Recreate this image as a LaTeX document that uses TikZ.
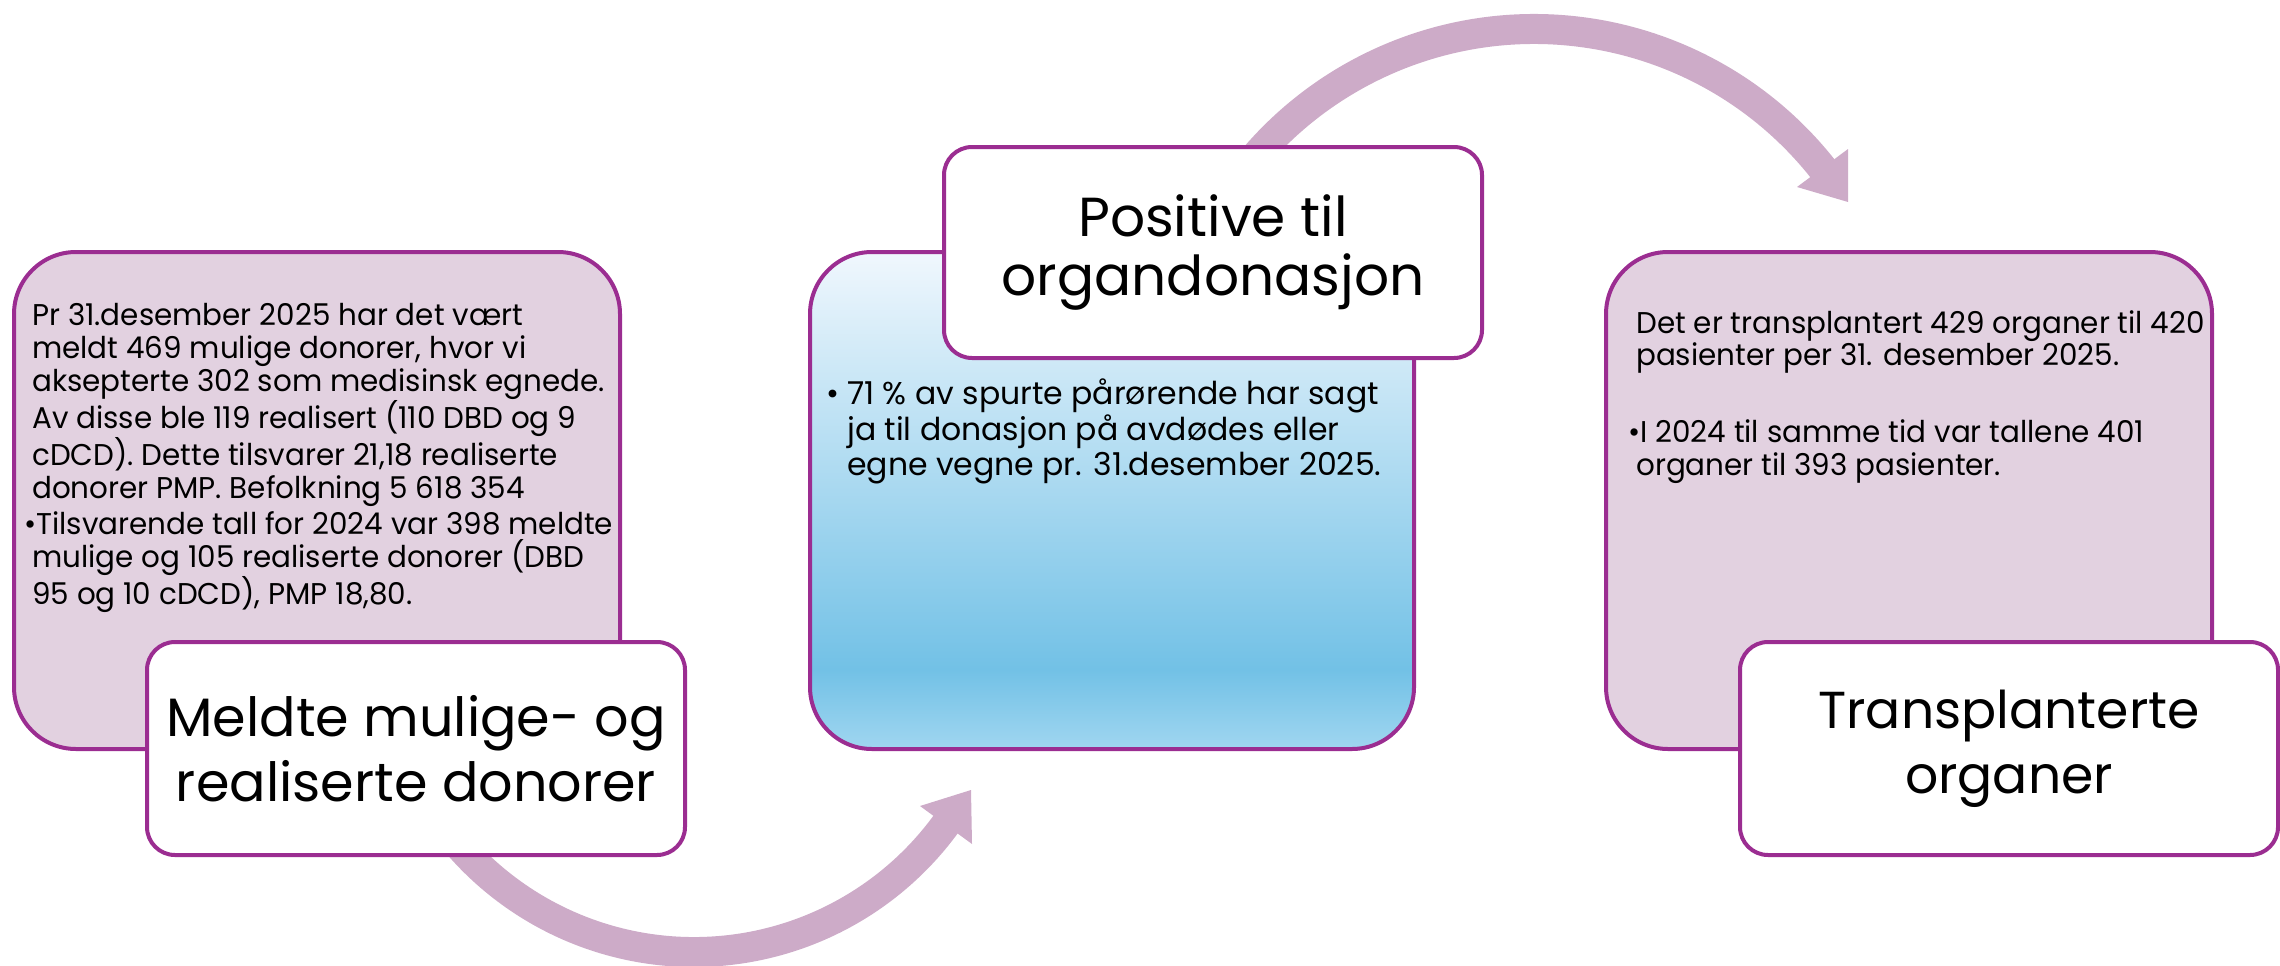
\documentclass[tikz,border=0pt]{standalone}
\usepackage{fontspec}
\setmainfont{Poppins}
\newfontfamily\condfont[FakeStretch=0.98]{Poppins}
\usetikzlibrary{calc}
\definecolor{boxborder}{RGB}{155,45,145}
\definecolor{boxfill}{RGB}{226,209,224}
\definecolor{arrowcol}{RGB}{205,171,200}
\definecolor{mtop}{RGB}{240,247,253}
\definecolor{mdark}{RGB}{114,193,230}
\definecolor{mbot}{RGB}{160,214,240}
\pgfdeclareverticalshading{midshade}{100bp}{color(0bp)=(mbot); color(25bp)=(mbot); color(33bp)=(mdark); color(75bp)=(mtop); color(100bp)=(mtop)}
\begin{document}
\begin{tikzpicture}[x=1pt,y=-1pt,
  band/.style={draw=arrowcol, line width=30pt},
  headtip/.style={fill=arrowcol},
  bigbox/.style={draw=boxborder, line width=4pt, rounded corners=62pt, fill=boxfill, anchor=north west, minimum width=606pt, minimum height=497pt, inner sep=0pt},
  midbox/.style={draw=boxborder, line width=4pt, rounded corners=62pt, shading=midshade, anchor=north west, minimum width=604pt, minimum height=497pt, inner sep=0pt},
  titlebox/.style={draw=boxborder, line width=4pt, rounded corners=28pt, fill=white, anchor=north west, minimum width=538pt, minimum height=213pt, align=center, inner sep=0pt},
  bodytext/.style={anchor=north west, align=left, inner sep=0pt},
  condtext/.style={font=\condfont\fontsize{30}{32.8}\selectfont}]
\useasboundingbox (0,0) rectangle (2280,966);
% arrows
\coordinate (a1s) at (1232.6,185.9);
\draw[band] (a1s) arc[start angle=215, end angle=322, radius=368];
\fill[headtip] (1797,187) -- (1848,202) -- (1848,149) -- cycle;
\coordinate (a2s) at (438.4,819);
\draw[band] (a2s) arc[start angle=145, end angle=35.5, radius=312];
\fill[headtip] (920,806) -- (971,790) -- (972,844) -- cycle;
% big boxes
\node[bigbox] (lbox) at (12,250) {};
\node[midbox] (mbox) at (808,250) {};
\node[bigbox] (rbox) at (1604,250) {};
% body texts
\node[bodytext, condtext] (ltext) at (32,303) {Pr 31.desember 2025 har det vært\\meldt 469 mulige donorer, hvor vi\\aksepterte 302 som medisinsk egnede.\\Av disse ble 119 realisert (110 DBD og 9\\cDCD). Dette tilsvarer 21,18 realiserte\\donorer PMP. Befolkning 5 618 354\\[4pt]\hspace*{-8pt}•Tilsvarende tall for 2024 var 398 meldte\\mulige og 105 realiserte donorer (DBD\\95 og 10 cDCD), PMP 18,80.};
\node[bodytext, font=\fontsize{31.5}{35.5}\selectfont] (mtext) at (826,379) {\makebox[21pt][l]{•}71 \% av spurte pårørende har sagt\\\hspace*{21pt}ja til donasjon på avdødes eller\\\hspace*{21pt}egne vegne pr. 31.desember 2025.};
\node[bodytext, condtext] (rtext) at (1636,310) {Det er transplantert 429 organer til 420\\pasienter per 31. desember 2025.\\[44pt]\hspace*{-8pt}•I 2024 til samme tid var tallene 401\\organer til 393 pasienter.};
% title boxes
\node[titlebox, font=\fontsize{54}{65}\selectfont] (ltitle) at (145,640) {Meldte mulige- og\\realiserte donorer};
\node[titlebox, font=\fontsize{55}{59}\selectfont, minimum height=211pt] (mtitle) at (942,145) {Positive til\\organdonasjon};
\node[titlebox, font=\fontsize{52}{65}\selectfont] (rtitle) at (1738,640) {Transplanterte\\organer};
\end{tikzpicture}
\end{document}
